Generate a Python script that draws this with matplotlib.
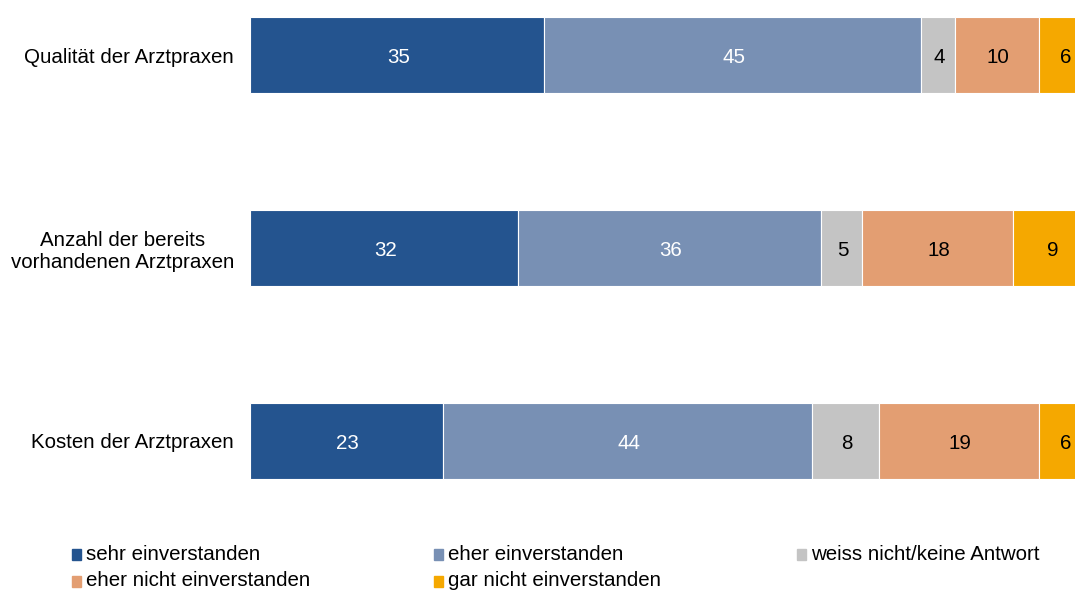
import matplotlib
matplotlib.use("Agg")
import matplotlib.pyplot as plt
from matplotlib.patches import Rectangle
from matplotlib.transforms import offset_copy

plt.rcParams['font.family'] = ['Liberation Sans', 'DejaVu Sans']

categories = ["Qualität der Arztpraxen",
              "Anzahl der bereits\nvorhandenen Arztpraxen",
              "Kosten der Arztpraxen"]
series_names = ["sehr einverstanden", "eher einverstanden",
                "weiss nicht/keine Antwort", "eher nicht einverstanden",
                "gar nicht einverstanden"]
sehr = [35, 32, 23]
eher = [45, 36, 44]
weiss = [4, 5, 8]
eher_nicht = [10, 18, 19]
gar_nicht = [6, 9, 6]
series = [sehr, eher, weiss, eher_nicht, gar_nicht]

colors = ["#24548F", "#7890B4", "#C4C4C4", "#E39E72", "#F5A800"]
text_colors = ["white", "white", "black", "black", "black"]

FS = 14.8
W, H = 1075, 591
fig = plt.figure(figsize=(W / 100, H / 100), dpi=100)
# plot area runs slightly past the right figure edge
ax = fig.add_axes([250 / W, 0.1885, 839 / W, 0.9722 - 0.1885])

# value labels sit a touch below the bar centre
label_tr = offset_copy(ax.transData, fig=fig, x=1, y=-1.5, units="points")

ypos = list(range(len(categories)))
left = [0] * len(categories)
for vals, col, tcol in zip(series, colors, text_colors):
    bars = ax.barh(ypos, vals, left=left, height=0.394, color=col,
                   edgecolor="white", linewidth=0.8)
    for b, v in zip(bars, vals):
        ax.text(b.get_x() + b.get_width() / 2, b.get_y() + b.get_height() / 2,
                str(v), ha="center", va="center", color=tcol, fontsize=FS,
                transform=label_tr)
    left = [l + v for l, v in zip(left, vals)]

ax.set_xlim(0, 100)
ax.set_ylim(2.2, -0.2)
ax.set_yticks(ypos)
ax.set_yticklabels(categories, fontsize=FS, multialignment="center")
ax.tick_params(axis="y", length=0, pad=11.5)
ax.set_xticks([])
for s in ax.spines.values():
    s.set_visible(False)

# legend: three columns, two rows
col_x = [72, 434, 797]
row_y = [554, 581]
for i, (name, col) in enumerate(zip(series_names, colors)):
    cx = col_x[i % 3]
    cy = row_y[i // 3]
    fig.patches.append(Rectangle((cx / W, 1 - (cy + 6) / H), 9 / W, 11 / H,
                                 transform=fig.transFigure, color=col))
    fig.text((cx + 14) / W, 1 - cy / H, name, ha="left", va="center",
             fontsize=FS, color="black")

fig.savefig("out.png", dpi=100)
